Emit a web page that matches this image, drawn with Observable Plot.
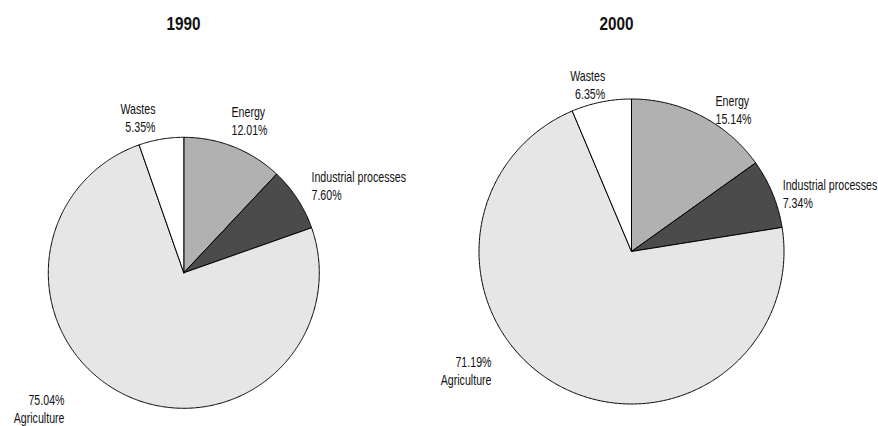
<!DOCTYPE html>
<html>
<head>
<meta charset="utf-8">
<script src="https://cdn.jsdelivr.net/npm/d3@7"></script>
<script src="https://cdn.jsdelivr.net/npm/@observablehq/plot@0.6"></script>
<style>
  html, body { margin: 0; padding: 0; background: #ffffff; }
  #chart svg { display: block; }
</style>
</head>
<body>
<div id="chart"></div>
<script>
// ---- data ----
const years = ["1990", "2000"];
const categories = ["Energy", "Industrial processes", "Agriculture", "Wastes"];
const values1990 = [12.01, 7.60, 75.04, 5.35];
const values2000 = [15.14, 7.34, 71.19, 6.35];

// ---- styles / layout ----
const colors = {"Energy": "#b1b1b1", "Industrial processes": "#4b4b4b", "Agriculture": "#e6e6e6", "Wastes": "#ffffff"};
const pieLayout = [
  {cx: 183.3, cy: 272.3, r: 135.5, titleX: 183},
  {cx: 631, cy: 251, r: 152.5, titleX: 616}
];
// label anchor offsets from each pie centre, and text anchor
const labelLayout = [
  {"Energy": [47.7, -152.3, "start"], "Industrial processes": [127.7, -87.3, "start"], "Agriculture": [-119.3, 135, "end"], "Wastes": [-28.3, -155.6, "end"]},
  {"Energy": [84, -142.7, "start"], "Industrial processes": [151.2, -58, "start"], "Agriculture": [-140, 119, "end"], "Wastes": [-26.3, -167.7, "end"]}
];
const font = "'Liberation Sans', Arial, sans-serif";
const labelSize = 14, labelSquash = 0.76;   // condensed look
const titleSize = 18, titleSquash = 0.85;

const series = [values1990, values2000];
const pie = d3.pie().sort(null).value(d => d.value).startAngle(0).endAngle(2 * Math.PI);

const wedgePoints = [];
const labels = [];
series.forEach((vals, pi) => {
  const L = pieLayout[pi];
  const arcs = pie(categories.map((c, i) => ({category: c, value: vals[i]})));
  arcs.forEach(a => {
    const key = years[pi] + "-" + a.data.category;
    const pts = [[L.cx, L.cy]];
    const n = Math.max(2, Math.ceil((a.endAngle - a.startAngle) / (Math.PI / 360)));
    for (let k = 0; k <= n; k++) {
      const t = a.startAngle + (a.endAngle - a.startAngle) * k / n;
      pts.push([L.cx + L.r * Math.sin(t), L.cy - L.r * Math.cos(t)]);
    }
    pts.push([L.cx, L.cy]);
    pts.forEach(p => wedgePoints.push({key, category: a.data.category, x: p[0], y: p[1]}));
    const [dx, dy, anchor] = labelLayout[pi][a.data.category];
    const pct = a.data.value.toFixed(2) + "%";
    const text = a.data.category === "Agriculture" ? pct + "\n" + a.data.category : a.data.category + "\n" + pct;
    labels.push({x: L.cx + dx, y: L.cy + dy, text, anchor});
  });
});
const titles = years.map((y, i) => ({x: pieLayout[i].titleX, y: 24.2, text: y}));

const chart = Plot.plot({
  width: 878,
  height: 426,
  margin: 0,
  style: {background: "#ffffff", fontFamily: font},
  x: {domain: [0, 878], range: [0, 878], axis: null},
  y: {domain: [0, 426], range: [0, 426], axis: null},
  marks: [
    Plot.line(wedgePoints, {x: "x", y: "y", z: "key", fill: d => colors[d.category], stroke: "#000000", strokeWidth: 1, strokeLinejoin: "round", curve: "linear"}),
    Plot.text(labels.filter(d => d.anchor === "start"), {x: "x", y: "y", text: "text", textAnchor: "start", lineAnchor: "middle", lineHeight: 1.3, fontSize: labelSize, fill: "#111111"}),
    Plot.text(labels.filter(d => d.anchor === "end"), {x: "x", y: "y", text: "text", textAnchor: "end", lineAnchor: "middle", lineHeight: 1.3, fontSize: labelSize, fill: "#111111"}),
    Plot.text(titles, {x: "x", y: "y", text: "text", fontSize: titleSize, fontWeight: "bold", fill: "#111111"})
  ]
});

// horizontally condense every text about its own anchor point
d3.select(chart).selectAll("text").each(function() {
  const g = this.closest("g");
  const fs = g ? parseFloat(g.getAttribute("font-size")) : labelSize;
  const s = fs >= titleSize ? titleSquash : labelSquash;
  const tr = this.getAttribute("transform");
  if (tr && tr.includes("translate")) {
    this.setAttribute("transform", tr + ` scale(${s},1)`);
  } else {
    const x = +this.getAttribute("x") || 0, y = +this.getAttribute("y") || 0;
    this.setAttribute("transform", `translate(${x},${y}) scale(${s},1) translate(${-x},${-y})`);
  }
});
document.getElementById("chart").appendChild(chart);
</script>
</body>
</html>
